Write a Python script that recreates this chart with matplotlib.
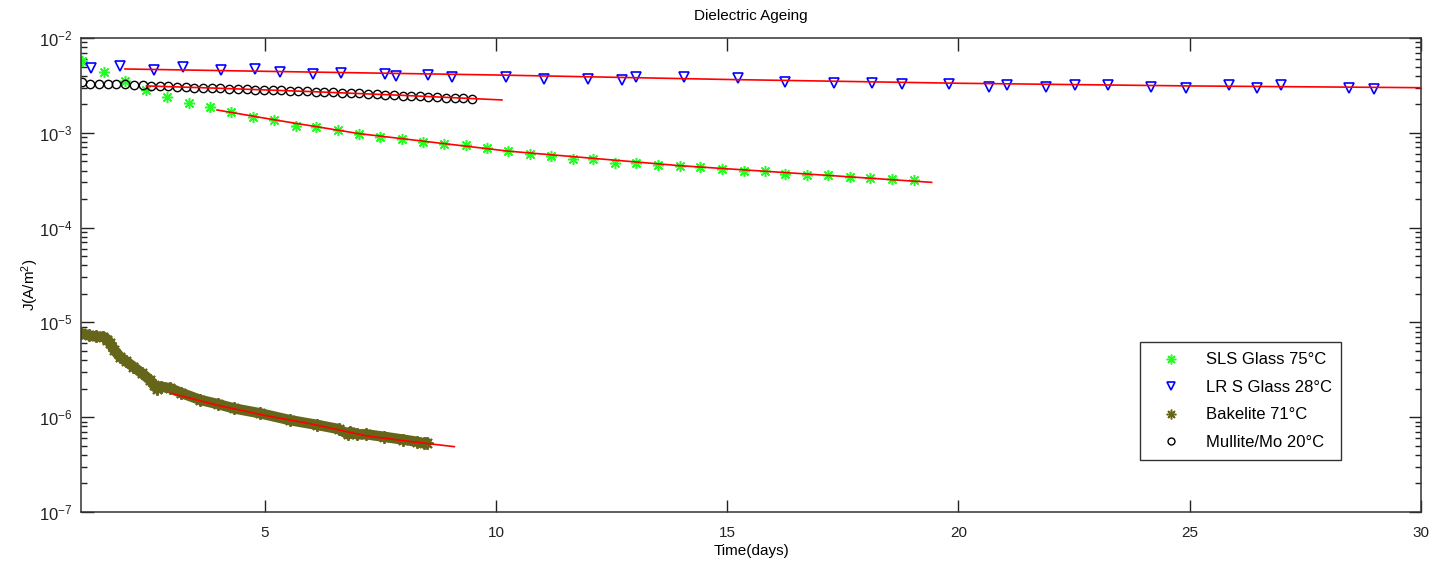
import math
import matplotlib
matplotlib.use('Agg')
import matplotlib.pyplot as plt
from matplotlib.lines import Line2D
from matplotlib.ticker import FixedLocator, FuncFormatter, NullFormatter

plt.rcParams['font.family'] = ['Liberation Sans', 'DejaVu Sans']
plt.rcParams['mathtext.default'] = 'regular'

# SLS Glass 75C (green asterisks)
sls_t = [1.04, 1.53, 1.97, 2.43, 2.88, 3.36, 3.81, 4.28, 4.74, 5.21, 5.67, 6.12,
         6.59, 7.04, 7.50, 7.96, 8.43, 8.88, 9.35, 9.81, 10.27, 10.73, 11.20, 11.67,
         12.10, 12.57, 13.03, 13.51, 13.97, 14.41, 14.88, 15.36, 15.81, 16.25, 16.72,
         17.19, 17.65, 18.09, 18.57, 19.03]
sls_j = [5.77e-3, 4.35e-3, 3.52e-3, 2.83e-3, 2.37e-3, 2.08e-3, 1.86e-3, 1.66e-3,
         1.46e-3, 1.36e-3, 1.18e-3, 1.14e-3, 1.07e-3, 9.7e-4, 9.1e-4, 8.6e-4, 8.0e-4,
         7.6e-4, 7.4e-4, 6.97e-4, 6.43e-4, 6.02e-4, 5.74e-4, 5.30e-4, 5.33e-4, 4.80e-4,
         4.80e-4, 4.60e-4, 4.50e-4, 4.36e-4, 4.18e-4, 3.95e-4, 3.95e-4, 3.67e-4,
         3.56e-4, 3.61e-4, 3.39e-4, 3.36e-4, 3.23e-4, 3.18e-4]
sls_fit_t = [3.97, 5.21, 7.04, 10.27, 13.97, 17.19, 19.42]
sls_fit_j = [1.74e-3, 1.37e-3, 9.8e-4, 6.4e-4, 4.5e-4, 3.55e-4, 3.0e-4]

# LR S Glass 28C (blue triangles)
lrs_t = [1.25, 1.87, 2.60, 3.24, 4.06, 4.79, 5.33, 6.05, 6.66, 7.61, 7.84, 8.54,
         9.06, 10.21, 11.05, 11.98, 12.72, 13.03, 14.06, 15.23, 16.25, 17.30, 18.13,
         18.77, 19.80, 20.65, 21.05, 21.90, 22.52, 23.24, 24.17, 24.91, 25.84, 26.46,
         26.98, 28.44, 28.98]
lrs_j = [4.79e-3, 5.07e-3, 4.60e-3, 4.90e-3, 4.60e-3, 4.71e-3, 4.41e-3, 4.14e-3,
         4.27e-3, 4.17e-3, 3.98e-3, 4.04e-3, 3.85e-3, 3.88e-3, 3.70e-3, 3.70e-3,
         3.58e-3, 3.88e-3, 3.88e-3, 3.79e-3, 3.46e-3, 3.38e-3, 3.38e-3, 3.27e-3,
         3.25e-3, 3.06e-3, 3.19e-3, 3.06e-3, 3.19e-3, 3.19e-3, 3.06e-3, 2.94e-3,
         3.22e-3, 2.97e-3, 3.22e-3, 2.97e-3, 2.87e-3]
lrs_fit_t = [1.98, 5.0, 10.0, 15.0, 20.0, 25.0, 30.0]
lrs_fit_j = [4.71e-3, 4.45e-3, 4.07e-3, 3.65e-3, 3.33e-3, 3.12e-3, 2.99e-3]

# Bakelite 71C (olive asterisks, dense record)
bak_t = [1.03, 1.20, 1.35, 1.51, 1.60, 1.66, 1.75, 1.87, 2.00, 2.16, 2.35, 2.52,
         2.60, 2.67, 2.75, 2.96, 3.20, 3.61, 4.00, 4.33, 4.90, 5.55, 6.13, 6.60,
         6.80, 6.85, 7.00, 7.20, 7.57, 8.00, 8.30, 8.44, 8.50]
bak_j = [7.67e-6, 7.3e-6, 7.1e-6, 7.06e-6, 6.6e-6, 6.0e-6, 5.1e-6, 4.35e-6, 3.9e-6,
         3.41e-6, 2.9e-6, 2.47e-6, 2.2e-6, 2.0e-6, 2.1e-6, 2.02e-6, 1.8e-6, 1.52e-6,
         1.37e-6, 1.24e-6, 1.10e-6, 9.3e-7, 8.3e-7, 7.5e-7, 6.6e-7, 7.0e-7, 6.6e-7,
         6.6e-7, 6.22e-7, 5.8e-7, 5.5e-7, 5.3e-7, 5.4e-7]
bak_fit_t = [2.98, 4.0, 4.98, 6.0, 7.21, 8.2, 9.10]
bak_fit_j = [1.79e-6, 1.33e-6, 1.05e-6, 8.5e-7, 6.34e-7, 5.5e-7, 4.89e-7]

# Mullite/Mo 20C (black circles)
mul_t = [1.04, 1.23, 1.42, 1.61, 1.79, 1.98, 2.17, 2.36, 2.54, 2.73, 2.92, 3.11,
         3.29, 3.48, 3.67, 3.86, 4.04, 4.23, 4.42, 4.61, 4.79, 4.98, 5.17, 5.36,
         5.54, 5.73, 5.92, 6.11, 6.29, 6.48, 6.67, 6.86, 7.04, 7.23, 7.42, 7.61,
         7.79, 7.98, 8.17, 8.36, 8.54, 8.73, 8.92, 9.11, 9.29, 9.48]
mul_j = [3.41e-3, 3.25e-3, 3.24e-3, 3.24e-3, 3.25e-3, 3.25e-3, 3.20e-3, 3.16e-3,
         3.12e-3, 3.10e-3, 3.08e-3, 3.06e-3, 3.03e-3, 3.00e-3, 2.98e-3, 2.96e-3,
         2.94e-3, 2.92e-3, 2.90e-3, 2.88e-3, 2.86e-3, 2.84e-3, 2.82e-3, 2.80e-3,
         2.78e-3, 2.76e-3, 2.74e-3, 2.72e-3, 2.70e-3, 2.68e-3, 2.66e-3, 2.64e-3,
         2.61e-3, 2.58e-3, 2.55e-3, 2.52e-3, 2.50e-3, 2.47e-3, 2.45e-3, 2.42e-3,
         2.40e-3, 2.37e-3, 2.35e-3, 2.32e-3, 2.30e-3, 2.27e-3]
mul_fit_t = [2.45, 4.0, 6.0, 8.0, 10.13]
mul_fit_j = [3.12e-3, 2.95e-3, 2.72e-3, 2.48e-3, 2.22e-3]

labels = ['SLS Glass 75°C', 'LR S Glass 28°C', 'Bakelite 71°C', 'Mullite/Mo 20°C']
x_ticks = [5, 10, 15, 20, 25, 30]

green = '#22ff22'
blue = '#0000ff'
olive = '#66661a'
asterisk = (8, 2, 0)

fig = plt.figure(figsize=(14.32, 5.66), dpi=100)
ax = fig.add_axes([0.0566, 0.0954, 0.9357, 0.8375])

ax.plot(sls_t, sls_j, linestyle='none', marker=asterisk, ms=8, mew=1.1, color=green)
ax.plot(lrs_t, lrs_j, linestyle='none', marker='v', ms=6.5, mew=1.2, mfc='none', mec=blue)
ax.plot(bak_t, bak_j, '-', lw=7.5, color=olive, solid_capstyle='round')
ax.plot(bak_t, bak_j, linestyle='none', marker=asterisk, ms=9, mew=1.4, color=olive)
ax.plot(mul_t, mul_j, linestyle='none', marker='o', ms=6, mew=1.0, mfc='none', mec='black')

for ft, fj in [(sls_fit_t, sls_fit_j), (lrs_fit_t, lrs_fit_j),
               (bak_fit_t, bak_fit_j), (mul_fit_t, mul_fit_j)]:
    ax.plot(ft, fj, '-', color='red', lw=1.2, zorder=5)

ax.set_yscale('log')
ax.set_xlim(1.03, 30)
ax.set_ylim(1e-7, 1e-2)
ax.xaxis.set_major_locator(FixedLocator(x_ticks))
ax.yaxis.set_major_formatter(FuncFormatter(lambda v, p: r'$10^{%d}$' % round(math.log10(v))))
ax.yaxis.set_minor_formatter(NullFormatter())
ax.tick_params(which='both', direction='in', top=True, right=True, colors='#222222')
ax.tick_params(which='major', length=9, width=1)
ax.tick_params(which='minor', length=4.5, width=1)
ax.tick_params(axis='x', which='major', labelsize=11, pad=10)
ax.tick_params(axis='y', which='major', labelsize=12, pad=6)
for s in ax.spines.values():
    s.set_linewidth(1.1)
    s.set_color('#333333')

ax.set_title('Dielectric Ageing', fontsize=11, pad=13)
ax.set_xlabel('Time(days)', fontsize=11)
ax.set_ylabel(r'J(A/m$^2$)', fontsize=11)
ax.xaxis.set_label_coords(0.5, -0.082, transform=ax.transAxes)
ax.yaxis.set_label_coords(-0.038, 0.48, transform=ax.transAxes)
ax.xaxis.label.set_va('center')
ax.yaxis.label.set_va('center')

handles = [
    Line2D([], [], linestyle='none', marker=asterisk, ms=7, mew=1.1, color=green),
    Line2D([], [], linestyle='none', marker='v', ms=6, mew=1.2, mfc='none', mec=blue),
    Line2D([], [], linestyle='none', marker=asterisk, ms=7, mew=1.1, color=olive),
    Line2D([], [], linestyle='none', marker='o', ms=5, mew=1.0, mfc='none', mec='black'),
]
leg = ax.legend(handles, labels, loc='lower left', bbox_to_anchor=(0.79, 0.11, 0.15, 0.253),
                mode='expand', fontsize=12, frameon=True, fancybox=False,
                borderpad=0.6, labelspacing=0.75, handletextpad=0.8, handlelength=2.6,
                borderaxespad=0)
leg.get_frame().set_edgecolor('black')
leg.get_frame().set_linewidth(1.0)

fig.savefig('out.png', dpi=100)
